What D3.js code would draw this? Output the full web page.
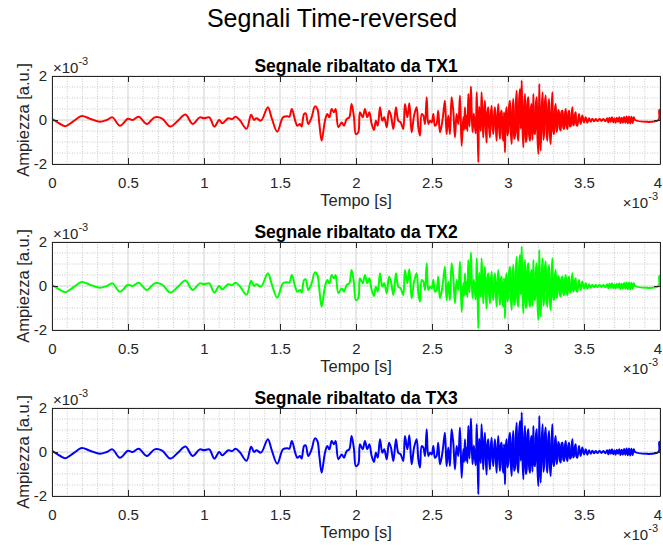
<!DOCTYPE html>
<html>
<head>
<meta charset="utf-8">
<script src="https://cdn.jsdelivr.net/npm/d3@7"></script>
<style>
body { margin: 0; background: #fff; }
text { font-family: "Liberation Sans", Arial, sans-serif; fill: #262626; }
</style>
</head>
<body>
<div id="vis"></div>
<script>

// signal: [time in ms, amplitude in 1e-3 a.u.]
const quietPart = [
  [0.000, 0.05], [0.040, -0.12], [0.086, -0.28], [0.140, -0.06], [0.195, 0.18],
  [0.250, 0.06], [0.315, -0.08], [0.360, 0.00], [0.397, 0.12], [0.447, -0.26],
  [0.500, 0.06], [0.530, 0.00], [0.570, 0.15], [0.625, -0.18], [0.675, 0.12],
  [0.725, 0.06], [0.778, -0.30], [0.830, -0.02], [0.878, 0.25], [0.925, -0.18],
  [0.972, 0.12], [1.000, 0.08], [1.035, 0.12], [1.068, -0.30], [1.100, 0.00],
  [1.120, -0.15], [1.160, 0.08], [1.185, 0.04], [1.208, 0.15], [1.235, 0.00],
  [1.280, -0.40], [1.310, 0.24], [1.330, 0.00], [1.345, 0.08], [1.375, -0.03],
  [1.420, 0.58], [1.445, 0.10], [1.482, -0.53], [1.520, 0.12], [1.550, 0.17],
  [1.562, 0.15], [1.578, 0.50]
]

const risingPart = [
  [1.600, -0.03], [1.614, -0.26], [1.631, -0.18], [1.642, -0.30], [1.658, 0.27],
  [1.669, 0.30], [1.686, -0.18], [1.708, 0.12], [1.730, 0.62], [1.746, 0.50],
  [1.759, -0.18], [1.774, -0.94], [1.796, -0.03], [1.811, 0.27], [1.825, 0.12],
  [1.840, 0.50], [1.855, 0.35], [1.866, 0.50], [1.884, -0.33], [1.906, -0.11],
  [1.921, -0.26], [1.939, 0.05], [1.956, 0.12], [1.971, 0.73], [1.987, 0.12],
  [1.999, -0.64], [2.015, -0.56], [2.026, 0.35], [2.044, 0.12], [2.059, 0.50],
  [2.074, 0.12], [2.088, 0.35], [2.103, -0.18], [2.118, -0.45], [2.131, -0.03],
  [2.143, -0.26], [2.158, 0.58], [2.173, -0.03], [2.186, 0.12], [2.202, -0.33],
  [2.217, 0.42], [2.230, 0.20], [2.246, -0.41], [2.263, 0.58], [2.278, -0.03],
  [2.294, -0.11], [2.311, -0.41], [2.322, 0.73], [2.338, 0.12], [2.351, 0.76],
  [2.366, -0.56], [2.382, 0.20]
]

const burstPart = [
  [2.399, 0.58], [2.410, -0.33], [2.421, -0.71], [2.432, 0.27], [2.443, 0.20],
  [2.454, -0.18], [2.465, 1.03], [2.476, -0.18], [2.487, -0.03], [2.498, -0.11],
  [2.509, 0.27], [2.519, -0.26], [2.530, -0.18], [2.541, 0.42], [2.552, -0.56],
  [2.563, -0.26], [2.574, 0.27], [2.585, 0.88], [2.596, -0.64], [2.607, 0.20],
  [2.618, -0.64], [2.629, 1.03], [2.640, 0.42], [2.651, -0.79], [2.662, 0.27],
  [2.673, -0.18], [2.684, 1.11], [2.695, -1.17], [2.706, 0.12], [2.711, -0.45],
  [2.717, 0.58], [2.722, -0.40], [2.728, 0.20], [2.733, -0.50], [2.739, 1.18],
  [2.747, -0.30], [2.756, 1.52], [2.761, 0.40], [2.767, -0.56], [2.775, 0.30],
  [2.783, -0.33], [2.788, -0.60], [2.794, 1.26], [2.799, 0.00], [2.805, -1.92],
  [2.810, 0.60], [2.816, 0.12], [2.821, -0.50], [2.826, 1.26], [2.832, 0.30],
  [2.837, -0.79], [2.842, 0.20], [2.848, 0.88], [2.853, -0.20], [2.859, -1.02],
  [2.864, 0.30], [2.870, 0.58], [2.875, -0.30], [2.881, -0.79], [2.886, 0.20],
  [2.892, 0.65], [2.897, -0.20], [2.903, -0.64], [2.908, 0.10], [2.914, 0.58],
  [2.919, -0.20], [2.925, -0.94], [2.930, 0.10], [2.936, 0.73], [2.941, -0.30]
]

const densePart = [
  [2.947, -0.86], [2.952, 0.30], [2.958, 0.42], [2.963, -0.60], [2.969, -0.94],
  [2.974, 0.35], [2.980, -1.47], [2.985, 0.20], [2.991, 0.58], [2.996, -0.70],
  [3.002, -0.48], [3.007, 0.60], [3.013, 0.88], [3.018, -0.50], [3.024, -1.09],
  [3.029, 0.40], [3.035, 0.95], [3.040, -0.85], [3.046, -0.71], [3.051, 0.70],
  [3.057, 1.33], [3.062, -0.60], [3.068, -0.94], [3.073, 0.90], [3.079, 1.41],
  [3.084, -0.40], [3.090, 1.79], [3.095, -0.30], [3.101, -1.24], [3.106, 0.60],
  [3.112, 1.18], [3.117, -1.00], [3.123, -0.79], [3.128, 0.80], [3.134, 1.03],
  [3.139, -0.70], [3.145, -0.94], [3.150, 0.50], [3.155, 0.73], [3.161, -0.90],
  [3.167, 1.18], [3.172, -0.50], [3.178, -0.64], [3.183, 0.70], [3.189, 1.03],
  [3.194, -0.80], [3.200, -1.55], [3.206, 1.64], [3.211, -0.60], [3.215, -1.39],
  [3.222, 0.60], [3.228, 1.26], [3.233, -0.90], [3.237, -0.64], [3.243, 0.80],
  [3.248, 1.11], [3.254, -0.60], [3.259, -0.94], [3.265, 0.60], [3.270, 0.95],
  [3.276, -0.70], [3.281, -1.09], [3.287, 0.50], [3.292, 1.26], [3.298, -0.50],
  [3.303, -0.64], [3.309, 0.50], [3.314, 0.73], [3.320, -0.55], [3.325, -0.33],
  [3.331, 0.45], [3.336, 0.35], [3.342, -0.40], [3.347, -0.48], [3.353, 0.40],
  [3.358, 0.42], [3.364, -0.35], [3.369, -0.41], [3.375, 0.30], [3.380, 0.50],
  [3.386, -0.30], [3.391, -0.41], [3.397, 0.30], [3.402, 0.42], [3.408, -0.30],
  [3.413, -0.26], [3.419, 0.30], [3.424, 0.58], [3.429, -0.25], [3.434, -0.18],
  [3.440, 0.25], [3.445, 0.35], [3.450, -0.20], [3.456, -0.26], [3.467, 0.27],
  [3.478, -0.18], [3.489, 0.20], [3.500, -0.11], [3.511, 0.12], [3.522, -0.12],
  [3.533, 0.08], [3.544, -0.08], [3.555, 0.06], [3.566, -0.06]
]

const tailPart = [
  [3.577, 0.04], [3.590, -0.05], [3.602, 0.06], [3.615, -0.04], [3.628, 0.05],
  [3.640, -0.06], [3.652, 0.08], [3.660, -0.10], [3.668, 0.10], [3.676, -0.08],
  [3.684, 0.12], [3.692, -0.10], [3.700, 0.08], [3.708, -0.12], [3.716, 0.10],
  [3.724, -0.08], [3.732, 0.12], [3.740, -0.14], [3.748, 0.10], [3.756, -0.12],
  [3.764, 0.14], [3.772, -0.12], [3.780, 0.16], [3.788, -0.15], [3.796, 0.16],
  [3.804, -0.16], [3.812, 0.15], [3.820, -0.14], [3.828, 0.12], [3.836, 0.00],
  [3.990, 0.00], [3.996, 0.45], [4.010, 0.45]
]

const transmitters = ['TX1', 'TX2', 'TX3']
const lineColors = ['#ff0000', '#00ff00', '#0000ff']
const xTicks = [0, 0.5, 1, 1.5, 2, 2.5, 3, 3.5, 4]
const yTicks = [-2, 0, 2]

const signal = quietPart.concat(risingPart, burstPart, densePart, tailPart)

const W = 663, H = 546
const plotLeft = 52, plotRight = 660, plotH = 88
const panelTops = [76, 242, 408]

let svg = d3.select('#vis')
    .append('svg')
    .attr('width', W)
    .attr('height', H)

svg.append('text')
    .attr('x', 332)
    .attr('y', 27)
    .attr('text-anchor', 'middle')
    .attr('font-size', '25px')
    .style('fill', '#000')
    .text('Segnali Time-reversed')

let x = d3.scaleLinear([0, 4], [plotLeft, plotRight])

transmitters.forEach((tx, i) => {
    let top = panelTops[i]
    let bottom = top + plotH
    let y = d3.scaleLinear([-2, 2], [bottom, top])

    let g = svg.append('g').attr('class', 'panel')

    // minor grid, dotted
    g.selectAll('.minor-x')
        .data(x.ticks(40)).enter()
        .append('line')
        .attr('x1', d => x(d)).attr('x2', d => x(d))
        .attr('y1', top).attr('y2', bottom)
        .attr('stroke', '#c8c8c8')
        .attr('stroke-dasharray', '1,1.5')
    g.selectAll('.minor-y')
        .data(y.ticks(8)).enter()
        .append('line')
        .attr('x1', plotLeft).attr('x2', plotRight)
        .attr('y1', d => y(d)).attr('y2', d => y(d))
        .attr('stroke', '#c8c8c8')
        .attr('stroke-dasharray', '1,1.5')

    // major grid
    g.selectAll('.major-x')
        .data(xTicks).enter()
        .append('line')
        .attr('x1', d => x(d)).attr('x2', d => x(d))
        .attr('y1', top).attr('y2', bottom)
        .attr('stroke', '#dcdcdc')
    g.selectAll('.major-y')
        .data(yTicks).enter()
        .append('line')
        .attr('x1', plotLeft).attr('x2', plotRight)
        .attr('y1', d => y(d)).attr('y2', d => y(d))
        .attr('stroke', '#dcdcdc')

    // clip + signal
    svg.append('clipPath')
        .attr('id', 'clip' + i)
        .append('rect')
        .attr('x', plotLeft).attr('y', top)
        .attr('width', plotRight - plotLeft).attr('height', plotH)

    let line = d3.line()
        .x(d => x(d[0]))
        .y(d => y(d[1]))
        .curve(d3.curveCatmullRom)

    g.append('path')
        .datum(signal)
        .attr('clip-path', `url(#clip${i})`)
        .attr('fill', 'none')
        .attr('stroke', lineColors[i])
        .attr('stroke-width', 2)
        .attr('stroke-linejoin', 'round')
        .attr('d', line)

    // axes with inward ticks on all four sides
    let fmt = d => String(d)
    let axB = g.append('g')
        .attr('transform', `translate(0,${bottom})`)
        .call(d3.axisBottom(x).tickValues(xTicks).tickFormat(fmt).tickSizeInner(-6).tickSizeOuter(0).tickPadding(13))
    let axT = g.append('g')
        .attr('transform', `translate(0,${top})`)
        .call(d3.axisTop(x).tickValues(xTicks).tickFormat('').tickSizeInner(-6).tickSizeOuter(0))
    let axL = g.append('g')
        .attr('transform', `translate(${plotLeft},0)`)
        .call(d3.axisLeft(y).tickValues(yTicks).tickFormat(fmt).tickSizeInner(-6).tickSizeOuter(0).tickPadding(5))
    let axR = g.append('g')
        .attr('transform', `translate(${plotRight},0)`)
        .call(d3.axisRight(y).tickValues(yTicks).tickFormat('').tickSizeInner(-6).tickSizeOuter(0))

    ;[axB, axT, axL, axR].forEach(a => {
        a.select('.domain').attr('stroke', '#262626')
        a.selectAll('.tick line').attr('stroke', '#262626')
        a.selectAll('text')
            .attr('font-size', '15px')
            .attr('font-family', '"Liberation Sans", Arial, sans-serif')
            .attr('fill', '#262626')
    })
    // keep the last label inside the window
    axB.selectAll('.tick text').attr('dx', d => d === 4 ? -2.5 : 0)

    // titles and labels
    g.append('text')
        .attr('x', (plotLeft + plotRight) / 2)
        .attr('y', top - 4)
        .attr('text-anchor', 'middle')
        .attr('font-size', '17.5px')
        .attr('font-weight', 'bold')
        .style('fill', '#000')
        .text('Segnale ribaltato da ' + tx)

    g.append('text')
        .attr('x', (plotLeft + plotRight) / 2)
        .attr('y', bottom + 42)
        .attr('text-anchor', 'middle')
        .attr('font-size', '16.5px')
        .text('Tempo [s]')

    g.append('text')
        .attr('transform', `translate(29,${(top + bottom) / 2}) rotate(-90)`)
        .attr('text-anchor', 'middle')
        .attr('font-size', '16.5px')
        .text('Ampiezza [a.u.]')

    // exponent markers
    let topExp = g.append('text')
        .attr('x', 53)
        .attr('y', top - 3)
        .attr('font-size', '15px')
    topExp.append('tspan').text('\u00d710')
    topExp.append('tspan').attr('dy', -8).attr('font-size', '11px').text('-3')

    let botExp = g.append('text')
        .attr('x', plotRight - 2)
        .attr('y', bottom + 44)
        .attr('text-anchor', 'end')
        .attr('font-size', '15px')
    botExp.append('tspan').text('\u00d710')
    botExp.append('tspan').attr('dy', -8).attr('font-size', '11px').text('-3')
})

</script>
</body>
</html>
